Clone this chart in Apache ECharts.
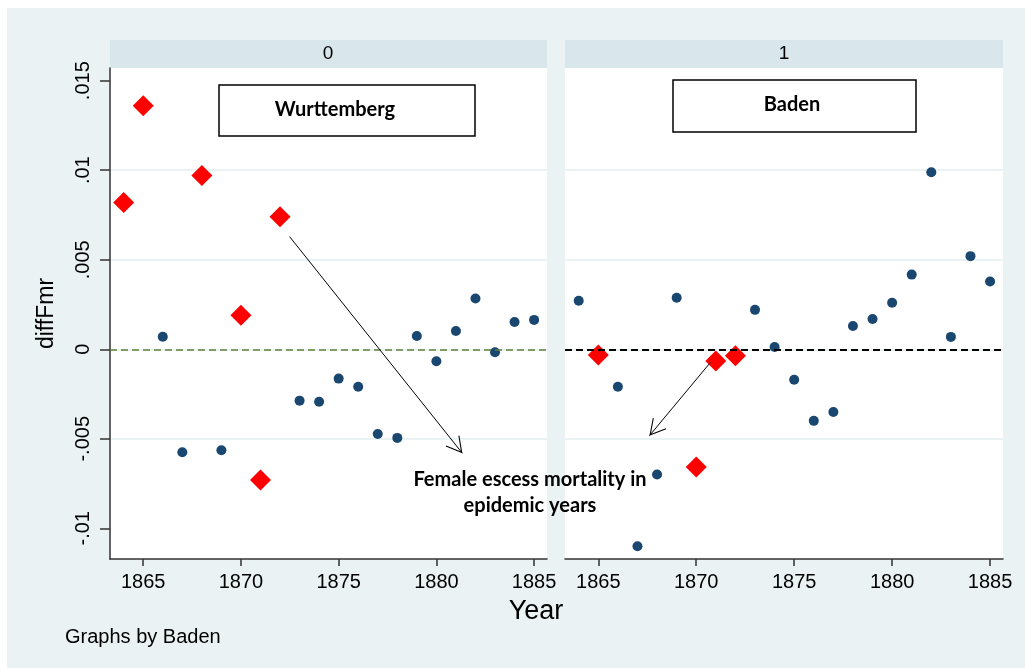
<!DOCTYPE html>
<html>
<head>
<meta charset="utf-8">
<title>diffFmr by Year</title>
<script src="https://cdn.jsdelivr.net/npm/echarts@6.0.0/dist/echarts.min.js"></script>
<style>
  html, body { margin: 0; padding: 0; background: #fff; }
  #chart { width: 1025px; height: 670px; }
</style>
</head>
<body>
<div id="chart"></div>
<script>
// panel 0 = Wurttemberg, panel 1 = Baden
var panelNames = ['0', '1'];

var wurtEpiYears = [1864, 1865, 1868, 1870, 1871, 1872];
var wurtEpiValues = [0.0082, 0.0136, 0.0097, 0.0019, -0.0073, 0.0074];
var wurtOtherYears = [1866, 1867, 1869, 1873, 1874, 1875, 1876, 1877, 1878, 1879, 1880, 1881, 1882, 1883, 1884, 1885];
var wurtOtherValues = [0.0007, -0.00575, -0.00564, -0.00287, -0.00293, -0.00164, -0.00209, -0.00473, -0.00495, 0.00074, -0.00067, 0.00102, 0.00283, -0.00017, 0.00152, 0.00164];

var badenEpiYears = [1865, 1870, 1871, 1872];
var badenEpiValues = [-0.00032, -0.00657, -0.00065, -0.00036];
var badenOtherYears = [1864, 1866, 1867, 1868, 1869, 1873, 1874, 1875, 1876, 1877, 1878, 1879, 1880, 1881, 1882, 1883, 1884, 1885];
var badenOtherValues = [0.00271, -0.00209, -0.011, -0.007, 0.00288, 0.0022, 0.00013, -0.0017, -0.004, -0.0035, 0.0013, 0.00169, 0.0026, 0.00417, 0.00989, 0.00069, 0.0052, 0.00378];

var wurtRefLine = 0.00015;
var badenRefLine = 0;

var xTicks = [1865, 1870, 1875, 1880, 1885];
var yTicks = [-0.01, -0.005, 0, 0.005, 0.01, 0.015];

// arrows, in data units: [x0, y0, x1, y1]
var wurtArrow = [1872.49, 0.00629, 1881.33, -0.00581];
var badenArrow = [1870.73, -0.00073, 1867.61, -0.00483];

var bgColor = '#eaf2f3';
var stripColor = '#d9e6eb';
var dotColor = '#1a476f';
var axisColor = '#333';

// open V arrow head, tip sits at the centre of the box
var openArrow = 'path://M0,0L0.01,0L0,0.01Z M40,40L39.99,40L40,39.99Z M20,20L28.7,35.7L27.8,36.2L20,22.3L12.2,36.2L11.3,35.7Z';

function pairs(xs, ys) {
  return xs.map(function (x, i) { return [x, ys[i]]; });
}

function yLabel(v) {
  if (v === 0) return '0';
  return String(v).replace('0.', '.');
}

var chart = echarts.init(document.getElementById('chart'), null, { renderer: 'canvas' });

function xAxisFor(idx) {
  return {
    type: 'value', gridIndex: idx, min: 1863.3, max: 1885.66,
    axisLine: { show: true, onZero: false, lineStyle: { color: axisColor, width: 1.5 } },
    axisTick: { show: true, customValues: xTicks, length: 7, lineStyle: { color: axisColor, width: 1.5 } },
    axisLabel: {
      customValues: xTicks, margin: 13, fontFamily: 'Liberation Sans', fontSize: 20, color: '#000',
      formatter: function (v) { return String(v); }
    },
    splitLine: { show: false }
  };
}

function yAxisFor(idx) {
  var first = idx === 0;
  return {
    type: 'value', gridIndex: idx, min: -0.011715, max: 0.015709,
    name: first ? 'diffFmr' : '', nameLocation: 'middle', nameGap: 52, nameRotate: 90,
    nameTextStyle: { fontFamily: 'Liberation Sans', fontSize: 23, color: '#000' },
    axisLine: { show: first, lineStyle: { color: axisColor, width: 1.5 } },
    axisTick: { show: first, customValues: yTicks, length: 10, lineStyle: { color: axisColor, width: 1.5 } },
    axisLabel: {
      show: first, customValues: yTicks, rotate: 90, margin: 17,
      fontFamily: 'Liberation Sans', fontSize: 20, color: '#000', formatter: yLabel
    },
    splitLine: { show: true, showMinLine: false, showMaxLine: false, lineStyle: { color: bgColor, width: 2 } }
  };
}

function arrowLine(a) {
  return {
    silent: true, symbol: ['none', openArrow], symbolSize: 40,
    lineStyle: { color: '#000', width: 1, type: 'solid' },
    label: { show: false },
    data: [[{ coord: [a[0], a[1]] }, { coord: [a[2], a[3]] }]]
  };
}

function refLine(v, color, width) {
  return {
    silent: true, symbol: 'none',
    lineStyle: { color: color, width: width, type: [7, 4] },
    label: { show: false },
    data: [{ yAxis: v }]
  };
}

var option = {
  backgroundColor: '#fff',
  animation: false,
  grid: [
    { left: 110, top: 68, width: 437, height: 491, show: true, backgroundColor: '#fff', borderWidth: 0 },
    { left: 565, top: 68, width: 438, height: 491, show: true, backgroundColor: '#fff', borderWidth: 0 }
  ],
  xAxis: [xAxisFor(0), xAxisFor(1)],
  yAxis: [yAxisFor(0), yAxisFor(1)],
  graphic: [
    { type: 'rect', z: -1, shape: { x: 7, y: 8, width: 1018, height: 660 }, style: { fill: bgColor } },
    { type: 'rect', shape: { x: 110, y: 40, width: 437, height: 28 }, style: { fill: stripColor } },
    { type: 'rect', shape: { x: 565, y: 40, width: 438, height: 28 }, style: { fill: stripColor } },
    { type: 'text', x: 328, y: 54, style: { text: panelNames[0], font: '19px "Liberation Sans"', fill: '#000', align: 'center', verticalAlign: 'middle' } },
    { type: 'text', x: 784, y: 54, style: { text: panelNames[1], font: '19px "Liberation Sans"', fill: '#000', align: 'center', verticalAlign: 'middle' } },

    { type: 'rect', z: 10, shape: { x: 219, y: 85, width: 256, height: 51 }, style: { fill: '#fff', stroke: '#000', lineWidth: 1.5 } },
    { type: 'text', z: 11, x: 335, y: 110, style: { text: 'Wurttemberg', font: 'bold 20px Lato', fill: '#000', align: 'center', verticalAlign: 'middle' } },
    { type: 'rect', z: 10, shape: { x: 673, y: 80, width: 243, height: 52 }, style: { fill: '#fff', stroke: '#000', lineWidth: 1.5 } },
    { type: 'text', z: 11, x: 792, y: 105, style: { text: 'Baden', font: 'bold 20px Lato', fill: '#000', align: 'center', verticalAlign: 'middle' } },

    { type: 'text', z: 11, x: 530, y: 493, style: { text: 'Female escess mortality in\nepidemic years', font: 'bold 20px Lato', lineHeight: 26, fill: '#000', align: 'center', verticalAlign: 'middle' } },

    { type: 'text', x: 536, y: 612, style: { text: 'Year', font: '27px "Liberation Sans"', fill: '#000', align: 'center', verticalAlign: 'middle' } },
    { type: 'text', x: 65, y: 637, style: { text: 'Graphs by Baden', font: '20px "Liberation Sans"', fill: '#000', align: 'left', verticalAlign: 'middle' } }
  ],
  series: [
    {
      type: 'scatter', xAxisIndex: 0, yAxisIndex: 0, z: 3,
      symbol: 'circle', symbolSize: 10, itemStyle: { color: dotColor, opacity: 1 },
      data: pairs(wurtOtherYears, wurtOtherValues),
      markLine: refLine(wurtRefLine, '#5f7f3f', 1.5)
    },
    {
      type: 'scatter', xAxisIndex: 0, yAxisIndex: 0, z: 4,
      symbol: 'diamond', symbolSize: 21, itemStyle: { color: '#ff0000', opacity: 1 },
      data: pairs(wurtEpiYears, wurtEpiValues),
      markLine: arrowLine(wurtArrow)
    },
    {
      type: 'scatter', xAxisIndex: 1, yAxisIndex: 1, z: 3,
      symbol: 'circle', symbolSize: 10, itemStyle: { color: dotColor, opacity: 1 },
      data: pairs(badenOtherYears, badenOtherValues),
      markLine: refLine(badenRefLine, '#000', 2)
    },
    {
      type: 'scatter', xAxisIndex: 1, yAxisIndex: 1, z: 4,
      symbol: 'diamond', symbolSize: 21, itemStyle: { color: '#ff0000', opacity: 1 },
      data: pairs(badenEpiYears, badenEpiValues),
      markLine: arrowLine(badenArrow)
    }
  ]
};

chart.setOption(option);
</script>
</body>
</html>
